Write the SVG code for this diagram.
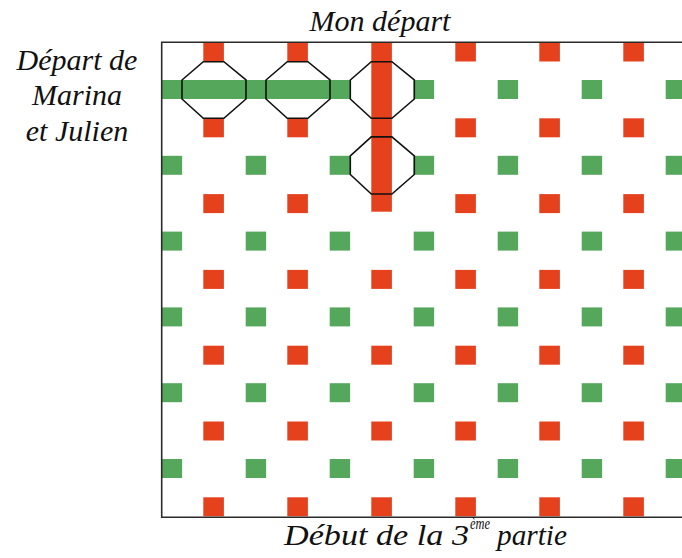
<svg xmlns="http://www.w3.org/2000/svg" width="682" height="558" viewBox="0 0 682 558">
<defs>
<style>
.r{fill:#e5411d}
.g{fill:#55a75c}
.oct{fill:none;stroke:#111;stroke-width:1.6;stroke-linejoin:miter}
.frame{fill:none;stroke:#2a2a2a;stroke-width:1.6}
.t{font-family:"Liberation Serif","Times New Roman",Times,serif;font-style:italic;font-size:30px;fill:#111}
.sup{font-family:"Liberation Serif","Times New Roman",Times,serif;font-style:italic;font-size:16px;fill:#111}
</style>
<rect id="rs" width="20.6" height="19" class="r"/>
<rect id="gs" width="20.4" height="19" class="g"/>
</defs>
<rect width="682" height="558" fill="#fff"/>
<g id="red-squares">
<use href="#rs" x="203.3" y="42.5"/><use href="#rs" x="287.3" y="42.5"/><use href="#rs" x="455.3" y="42.5"/><use href="#rs" x="539.3" y="42.5"/><use href="#rs" x="623.3" y="42.5"/>
<use href="#rs" x="203.3" y="118.3"/><use href="#rs" x="287.3" y="118.3"/><use href="#rs" x="455.3" y="118.3"/><use href="#rs" x="539.3" y="118.3"/><use href="#rs" x="623.3" y="118.3"/>
<use href="#rs" x="203.3" y="194.1"/><use href="#rs" x="287.3" y="194.1"/><use href="#rs" x="455.3" y="194.1"/><use href="#rs" x="539.3" y="194.1"/><use href="#rs" x="623.3" y="194.1"/>
<use href="#rs" x="203.3" y="269.9"/><use href="#rs" x="287.3" y="269.9"/><use href="#rs" x="371.3" y="269.9"/><use href="#rs" x="455.3" y="269.9"/><use href="#rs" x="539.3" y="269.9"/><use href="#rs" x="623.3" y="269.9"/>
<use href="#rs" x="203.3" y="345.7"/><use href="#rs" x="287.3" y="345.7"/><use href="#rs" x="371.3" y="345.7"/><use href="#rs" x="455.3" y="345.7"/><use href="#rs" x="539.3" y="345.7"/><use href="#rs" x="623.3" y="345.7"/>
<use href="#rs" x="203.3" y="421.5"/><use href="#rs" x="287.3" y="421.5"/><use href="#rs" x="371.3" y="421.5"/><use href="#rs" x="455.3" y="421.5"/><use href="#rs" x="539.3" y="421.5"/><use href="#rs" x="623.3" y="421.5"/>
<use href="#rs" x="203.3" y="497.3"/><use href="#rs" x="287.3" y="497.3"/><use href="#rs" x="371.3" y="497.3"/><use href="#rs" x="455.3" y="497.3"/><use href="#rs" x="539.3" y="497.3"/><use href="#rs" x="623.3" y="497.3"/>
</g>
<g id="green-squares">
<use href="#gs" x="413.7" y="80"/><use href="#gs" x="497.7" y="80"/><use href="#gs" x="581.7" y="80"/><use href="#gs" x="665.7" y="80"/>
<use href="#gs" x="161.7" y="155.8"/><use href="#gs" x="245.7" y="155.8"/><use href="#gs" x="329.7" y="155.8"/><use href="#gs" x="413.7" y="155.8"/><use href="#gs" x="497.7" y="155.8"/><use href="#gs" x="581.7" y="155.8"/><use href="#gs" x="665.7" y="155.8"/>
<use href="#gs" x="161.7" y="231.6"/><use href="#gs" x="245.7" y="231.6"/><use href="#gs" x="329.7" y="231.6"/><use href="#gs" x="413.7" y="231.6"/><use href="#gs" x="497.7" y="231.6"/><use href="#gs" x="581.7" y="231.6"/><use href="#gs" x="665.7" y="231.6"/>
<use href="#gs" x="161.7" y="307.4"/><use href="#gs" x="245.7" y="307.4"/><use href="#gs" x="329.7" y="307.4"/><use href="#gs" x="413.7" y="307.4"/><use href="#gs" x="497.7" y="307.4"/><use href="#gs" x="581.7" y="307.4"/><use href="#gs" x="665.7" y="307.4"/>
<use href="#gs" x="161.7" y="383.2"/><use href="#gs" x="245.7" y="383.2"/><use href="#gs" x="329.7" y="383.2"/><use href="#gs" x="413.7" y="383.2"/><use href="#gs" x="497.7" y="383.2"/><use href="#gs" x="581.7" y="383.2"/><use href="#gs" x="665.7" y="383.2"/>
<use href="#gs" x="161.7" y="459"/><use href="#gs" x="245.7" y="459"/><use href="#gs" x="329.7" y="459"/><use href="#gs" x="413.7" y="459"/><use href="#gs" x="497.7" y="459"/><use href="#gs" x="581.7" y="459"/><use href="#gs" x="665.7" y="459"/>
</g>
<g id="bars">
<rect class="g" x="161.7" y="80" width="188.3" height="19"/>
<rect class="r" x="371.3" y="42.5" width="20.6" height="169.2"/>
</g>
<g id="octagons">
<polygon class="oct" points="203.3,61.7 223.9,61.7 246,80 246,99 223.9,118.3 203.3,118.3 182,99 182,80"/>
<polygon class="oct" points="287.3,61.7 307.9,61.7 330,80 330,99 307.9,118.3 287.3,118.3 266,99 266,80"/>
<polygon class="oct" points="371.3,61.7 391.9,61.7 414.3,80 414.3,99 391.9,118.3 371.3,118.3 350.3,99 350.3,80"/>
<polygon class="oct" points="371.3,136.9 391.9,136.9 414.3,155.8 414.3,174.5 391.9,194 371.3,194 350.3,174.5 350.3,155.8"/>
</g>
<g id="frame">
<polyline class="frame" points="682,42.3 161.7,42.3 161.7,517.3 682,517.3"/>
</g>
<g id="labels">
<text class="t" x="380" y="31" text-anchor="middle">Mon départ</text>
<text class="t" x="77" y="70" text-anchor="middle">Départ de</text>
<text class="t" x="77" y="105" text-anchor="middle">Marina</text>
<text class="t" x="77" y="141" text-anchor="middle">et Julien</text>
<text class="t" x="284" y="545" textLength="185" lengthAdjust="spacingAndGlyphs">Début de la 3</text>
<text class="sup" x="470" y="529" textLength="20" lengthAdjust="spacingAndGlyphs">ème</text>
<text class="t" x="497" y="545" textLength="70" lengthAdjust="spacingAndGlyphs">partie</text>
</g>
</svg>
